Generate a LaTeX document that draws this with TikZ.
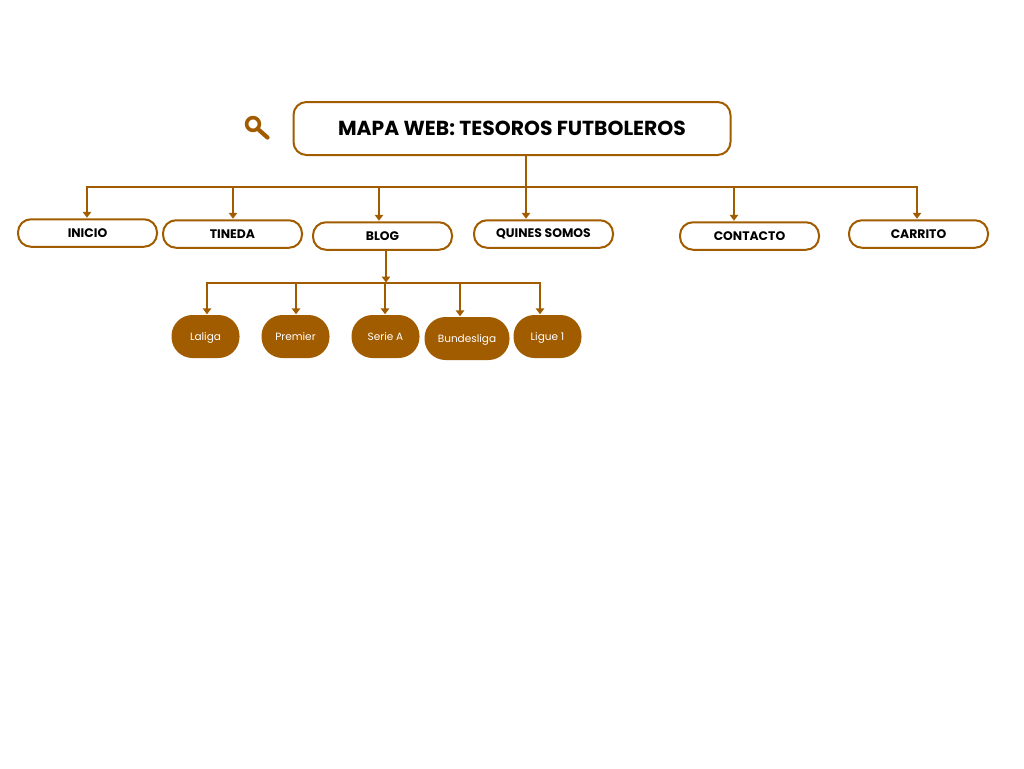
\documentclass[tikz,border=0pt]{standalone}
\usepackage{fontspec}
\setmainfont{Poppins}
\usetikzlibrary{arrows.meta}
\definecolor{brownline}{HTML}{A25C00}
\tikzset{
    menubox/.style={draw=brownline, line width=2pt, fill=white, rounded corners=13pt, minimum width=139pt, minimum height=27.5pt, inner sep=0pt, font=\fontsize{12.4}{14}\selectfont\bfseries},
    titlebox/.style={draw=brownline, line width=2pt, fill=white, rounded corners=13pt, minimum width=437pt, minimum height=53pt, inner sep=0pt, font=\fontsize{20.3}{24}\selectfont\bfseries},
    leaguebox/.style={fill=brownline, text=white, rounded corners=21pt, minimum width=68pt, minimum height=43pt, inner sep=0pt, text height=9pt, text depth=1pt, font=\fontsize{10.5}{13}\selectfont},
    wire/.style={draw=brownline, line width=2pt},
    wirearrow/.style={wire, -{Triangle[length=6pt,width=8.5pt]}, shorten >=0.5pt}
}
\begin{document}
\begin{tikzpicture}[x=1pt, y=-1pt]
    \useasboundingbox (0,0) rectangle (1024,768);

    % titulo y lupa
    \node[titlebox] (root) at (512,128.5) {MAPA WEB: TESOROS FUTBOLEROS};
    \draw[brownline, line width=3.6pt] (253,124) circle (6.4pt);
    \draw[brownline, line width=4.2pt, line cap=round] (259,130) -- (267.5,137.5);

    % menu
    \node[menubox] (inicio) at (87.5,233) {INICIO};
    \node[menubox] (tineda) at (232.5,234) {TINEDA};
    \node[menubox] (blog) at (382.5,236) {BLOG};
    \node[menubox] (quines) at (543.5,234) {QUINES SOMOS};
    \node[menubox] (contacto) at (749.5,236) {CONTACTO};
    \node[menubox] (carrito) at (918.5,234) {CARRITO};

    % ligas
    \node[leaguebox] (laliga) at (205.5,336.5) {Laliga};
    \node[leaguebox] (premier) at (295.5,336.5) {Premier};
    \node[leaguebox] (seriea) at (385.5,336.5) {Serie A};
    \node[leaguebox, minimum width=85pt] (bundesliga) at (467,338.5) {Bundesliga};
    \node[leaguebox] (ligue) at (547.5,336.5) {Ligue 1};

    % conectores del titulo
    \coordinate (rootbus) at (526,187);
    \coordinate (busleft) at (86,187);
    \coordinate (busright) at (918,187);
    \draw[wire] (root.south -| rootbus) -- (rootbus);
    \draw[wire] (busleft) -- (busright);
    \foreach \target/\xpos in {inicio/87, tineda/233, blog/379, quines/526, contacto/734, carrito/917}
        \draw[wirearrow] (\xpos,187) -- (\target.north -| {(\xpos,0)});

    % conectores del blog
    \coordinate (blogbus) at (386,283);
    \coordinate (blogleft) at (206,283);
    \coordinate (blogright) at (541,283);
    \draw[wirearrow] (blog.south -| blogbus) -- (blogbus);
    \draw[wire] (blogleft) -- (blogright);
    \foreach \target/\xpos in {laliga/207, premier/296, seriea/385, bundesliga/460, ligue/540}
        \draw[wirearrow] (\xpos,283) -- (\target.north -| {(\xpos,0)});
\end{tikzpicture}
\end{document}
